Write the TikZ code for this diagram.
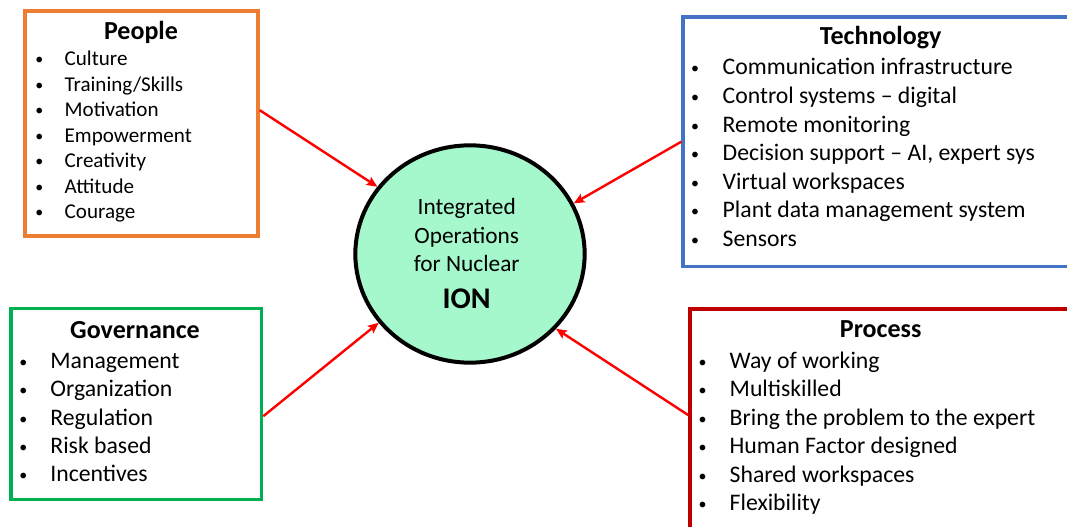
\documentclass[tikz,border=0pt]{standalone}
\usepackage{fontspec}
\setmainfont{Carlito}
\usetikzlibrary{arrows.meta, shapes.geometric, positioning}

\definecolor{peopleorange}{HTML}{ED7D31}
\definecolor{techblue}{HTML}{4472C4}
\definecolor{govgreen}{HTML}{00B050}
\definecolor{procred}{HTML}{C00000}
\definecolor{ionmint}{HTML}{A5F8CB}

\begin{document}
\begin{tikzpicture}[x=0.75pt, y=-0.75pt, ->, >={Stealth[length=8pt, width=7pt, inset=1.5pt]}, semithick]
    \tikzstyle{pillar}=[shape=rectangle, draw, fill=none, line width=2.5pt, inner sep=0pt]
    \tikzstyle{heading}=[font=\fontsize{19.5}{23}\selectfont\bfseries, anchor=base, inner sep=0pt]
    \tikzstyle{bullet}=[anchor=base, inner sep=0pt, font=\fontsize{12}{14}\selectfont]
    \tikzstyle{entry}=[anchor=base west, inner sep=0pt]
    \tikzstyle{link}=[red, line width=1.8pt]

\useasboundingbox (0,0) rectangle (1067,527);
\clip (0,0) rectangle (1067,527);

% the four pillars
\node[pillar, draw=peopleorange, minimum width=174.75pt, minimum height=168.75pt] (people) at (141.5,123.5) {};
\node[pillar, draw=techblue,     minimum width=294pt,    minimum height=187pt]    (tech)   at (879,141.7)   {};
\node[pillar, draw=govgreen,     minimum width=188pt,    minimum height=143.25pt] (gov)    at (136.3,404.2) {};
\node[pillar, draw=procred,      minimum width=288.75pt, minimum height=173.25pt] (proc)   at (882.5,424.5) {};

% centre
\node[ellipse, draw=black, fill=ionmint, line width=3pt, minimum width=172pt, minimum height=163pt, inner sep=0pt] (ion) at (470,254) {};
\foreach \t [count=\i from 0] in {Integrated, Operations, for Nuclear}
    \node[font=\fontsize{17.5}{21}\selectfont, anchor=base, inner sep=0pt] (ionline\i) at (466.7,{215+28.35*\i}) {\t};
\node[font=\fontsize{22.5}{27}\selectfont\bfseries, anchor=base, inner sep=0pt] (ionname) at (466.7,308.3) {ION};

% People
\node[heading] (peoplehead) at (141,39.3) {People};
\foreach \t [count=\i from 0] in {Culture, Training/Skills, Motivation, Empowerment, Creativity, Attitude, Courage} {
    \node[bullet] (peoplebul\i) at (39.3,{65+25.45*\i}) {\textbullet};
    \node[entry, font=\fontsize{15.8}{19}\selectfont] (peopleitem\i) at (64.3,{66+25.45*\i}) {\t};
}

% Technology
\node[heading] (techhead) at (880.7,45) {Technology};
\foreach \t [count=\i from 0] in {Communication infrastructure, Control systems \textendash{} digital, Remote monitoring, {Decision support \textendash{} AI, expert sys}, Virtual workspaces, Plant data management system, Sensors} {
    \node[bullet] (techbul\i) at (695,{74+28.6*\i}) {\textbullet};
    \node[entry, font=\fontsize{17.8}{21}\selectfont] (techitem\i) at (722.3,{75+28.6*\i}) {\t};
}

% Governance
\node[heading] (govhead) at (135,338.3) {Governance};
\foreach \t [count=\i from 0] in {Management, Organization, Regulation, Risk based, Incentives} {
    \node[bullet] (govbul\i) at (23.3,{367.3+28.35*\i}) {\textbullet};
    \node[entry, font=\fontsize{17.8}{21}\selectfont] (govitem\i) at (50,{368.3+28.35*\i}) {\t};
}

% Process
\node[heading] (prochead) at (880.7,337.3) {Process};
\foreach \t [count=\i from 0] in {Way of working, Multiskilled, Bring the problem to the expert, Human Factor designed, Shared workspaces, Flexibility} {
    \node[bullet] (procbul\i) at (702.7,{367.3+28.5*\i}) {\textbullet};
    \node[entry, font=\fontsize{17.8}{21}\selectfont] (procitem\i) at (729.3,{368.3+28.5*\i}) {\t};
}

\draw[link] ([yshift=10pt]people.east) -- (ion.144);
\draw[link] (tech.west) -- (ion.26);
\draw[link] ([yshift=-9pt]gov.east) -- (ion.217);
\draw[link] ([yshift=7pt]proc.west) -- (ion.319);
\end{tikzpicture}
\end{document}
